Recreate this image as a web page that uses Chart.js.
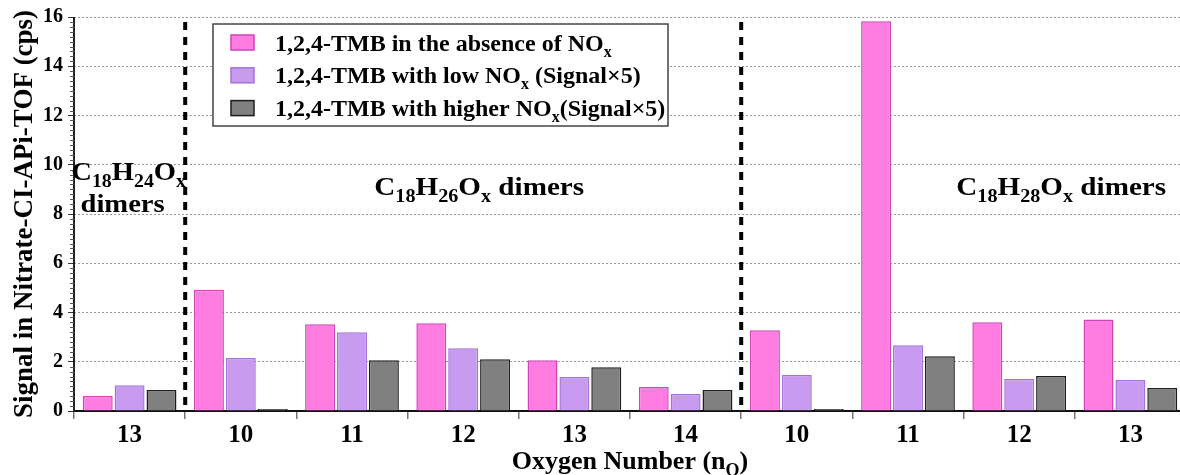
<!DOCTYPE html>
<html>
<head>
<meta charset="utf-8">
<script src="https://cdn.jsdelivr.net/npm/chart.js@4.4.0/dist/chart.umd.min.js"></script>
<style>
html,body{margin:0;padding:0;background:#fff;overflow:hidden}
#wrap{width:1190px;height:475px}
</style>
</head>
<body>
<div id="wrap"><canvas id="mycanvas" width="1190" height="475"></canvas></div>
<script>
// oxygen numbers along the x axis (3 dimer groups)
var categories = ['13', '10', '11', '12', '13', '14', '10', '11', '12', '13'];
var absenceNOx = [0.61, 4.92, 3.52, 3.56, 2.06, 0.97, 3.28, 15.83, 3.60, 3.72];
var lowNOx     = [1.05, 2.15, 3.20, 2.55, 1.38, 0.69, 1.46, 2.67, 1.30, 1.26];
var higherNOx  = [0.85, 0.08, 2.06, 2.10, 1.78, 0.85, 0.08, 2.22, 1.42, 0.93];
var seriesLabels = [
	'1,2,4-TMB in the absence of NO_x',
	'1,2,4-TMB with low NO_x (Signal×5)',
	'1,2,4-TMB with higher NO_x(Signal×5)'
];
var groupLabels = ['C_18H_24O_x', 'C_18H_26O_x dimers', 'C_18H_28O_x dimers'];
var yMin = 0, yMax = 16, yStep = 2;

var serif = "'Liberation Serif', 'Times New Roman', serif";

// text with _x style subscripts
function richParts(str) {
	var parts = [], re = /_(\d+|[a-zA-Z])/g, last = 0, m;
	while ((m = re.exec(str))) {
		if (m.index > last) parts.push({t: str.slice(last, m.index), sub: false});
		parts.push({t: m[1], sub: true});
		last = re.lastIndex;
	}
	if (last < str.length) parts.push({t: str.slice(last), sub: false});
	return parts;
}
function drawRich(ctx, str, x, y, size, align, sx) {
	sx = sx || 1;
	var parts = richParts(str), subSize = Math.round(size * 0.68), w = 0, i;
	for (i = 0; i < parts.length; i++) {
		ctx.font = 'bold ' + (parts[i].sub ? subSize : size) + 'px ' + serif;
		parts[i].w = ctx.measureText(parts[i].t).width;
		w += parts[i].w;
	}
	ctx.save();
	ctx.translate(align === 'center' ? x - w * sx / 2 : x, y);
	ctx.scale(sx, 1);
	ctx.textAlign = 'left';
	ctx.textBaseline = 'alphabetic';
	var cx = 0;
	for (i = 0; i < parts.length; i++) {
		ctx.font = 'bold ' + (parts[i].sub ? subSize : size) + 'px ' + serif;
		ctx.fillText(parts[i].t, cx, parts[i].sub ? size * 0.25 : 0);
		cx += parts[i].w;
	}
	ctx.restore();
}

var decor = {
	id: 'decor',
	afterDraw: function(chart) {
		var ctx = chart.ctx, xs = chart.scales.x, ys = chart.scales.y, a = chart.chartArea;
		ctx.save();
		ctx.fillStyle = '#000';

		// y axis line and minor ticks
		ctx.strokeStyle = '#222';
		ctx.lineWidth = 2;
		ctx.beginPath();
		ctx.moveTo(a.left, a.top);
		ctx.lineTo(a.left, a.bottom + 1);
		ctx.stroke();
		ctx.strokeStyle = '#555';
		ctx.lineWidth = 1;
		for (var i = 0; i <= (yMax - yMin) * 5; i++) {
			if (i % 10 === 0) continue;
			var py = Math.round(ys.getPixelForValue(yMin + i * 0.2)) + 0.5;
			ctx.beginPath();
			ctx.moveTo(a.left - 4, py);
			ctx.lineTo(a.left, py);
			ctx.stroke();
		}

		// dashed separators between dimer groups
		ctx.strokeStyle = '#000';
		ctx.lineWidth = 4;
		ctx.setLineDash([8, 7]);
		[0, 5].forEach(function(k) {
			var px = (xs.getPixelForValue(k) + xs.getPixelForValue(k + 1)) / 2;
			ctx.beginPath();
			ctx.moveTo(px, a.top + 5);
			ctx.lineTo(px, a.bottom);
			ctx.stroke();
		});
		ctx.setLineDash([]);

		// group labels
		var g0 = xs.getPixelForValue(0);
		drawRich(ctx, groupLabels[0], g0 - 1, 180, 26, 'center', 1.1);
		drawRich(ctx, 'dimers', g0 - 7, 212, 26, 'center', 1.1);
		drawRich(ctx, groupLabels[1], xs.getPixelForValue(3) + 16, 195, 26, 'center', 1.12);
		drawRich(ctx, groupLabels[2], xs.getPixelForValue(8) + 42, 195, 26, 'center', 1.12);

		// legend box
		var sets = chart.data.datasets;
		ctx.fillStyle = '#fff';
		ctx.fillRect(213, 24, 455, 102);
		ctx.strokeStyle = '#444';
		ctx.lineWidth = 1.5;
		ctx.strokeRect(213, 24, 455, 102);
		for (var j = 0; j < sets.length; j++) {
			var cy = 42.5 + j * 32.8;
			ctx.fillStyle = sets[j].backgroundColor;
			ctx.fillRect(231, cy - 7.5, 23, 15);
			ctx.strokeStyle = sets[j].borderColor;
			ctx.lineWidth = 1.5;
			ctx.strokeRect(231, cy - 7.5, 23, 15);
			ctx.fillStyle = '#000';
			drawRich(ctx, seriesLabels[j], 275, cy + 8, 24, 'left');
		}

		// x axis title
		drawRich(ctx, 'Oxygen Number (n_O)', (a.left + a.right) / 2, 469, 26, 'center');
		ctx.restore();
	}
};

var chartdata = {
	labels: categories,
	datasets: [
		{
			label: seriesLabels[0],
			backgroundColor: 'rgb(255,125,225)',
			borderColor: 'rgb(205,70,185)',
			data: absenceNOx
		},
		{
			label: seriesLabels[1],
			backgroundColor: 'rgb(200,155,240)',
			borderColor: 'rgb(165,115,215)',
			data: lowNOx
		},
		{
			label: seriesLabels[2],
			backgroundColor: 'rgb(128,128,128)',
			borderColor: 'rgb(30,30,30)',
			data: higherNOx
		}
	]
};

var ctx = document.getElementById('mycanvas');

var barGraph = new Chart(ctx, {
	type: 'bar',
	data: chartdata,
	plugins: [decor],
	options: {
		responsive: false,
		animation: false,
		devicePixelRatio: 1,
		layout: {padding: {top: 16, right: 4, left: 0, bottom: 0}},
		datasets: {
			bar: {
				categoryPercentage: 0.86,
				barPercentage: 0.94,
				borderWidth: 1.5
			}
		},
		plugins: {
			legend: {display: false},
			tooltip: {enabled: false}
		},
		scales: {
			x: {
				afterFit: function(s) { s.height = 64; },
				grid: {
					offset: true,
					drawOnChartArea: false,
					tickLength: 8,
					tickColor: '#777',
					lineWidth: 1.5
				},
				border: {display: true, color: '#111', width: 2},
				ticks: {
					color: '#000',
					padding: 2,
					font: {family: serif, weight: 'bold', size: 25}
				}
			},
			y: {
				min: yMin,
				max: yMax,
				afterFit: function(s) { s.width = 74; },
				grid: {
					color: '#999',
					lineWidth: 1,
					tickLength: 6,
					tickColor: '#333'
				},
				border: {display: false, dash: [2, 2]},
				ticks: {
					stepSize: yStep,
					color: '#000',
					padding: 5,
					font: {family: serif, weight: 'bold', size: 20}
				},
				title: {
					display: true,
					text: 'Signal in Nitrate-CI-APi-TOF (cps)',
					color: '#000',
					padding: {top: 9, bottom: 0},
					font: {family: serif, weight: 'bold', size: 27}
				}
			}
		}
	}
});
</script>
</body>
</html>
